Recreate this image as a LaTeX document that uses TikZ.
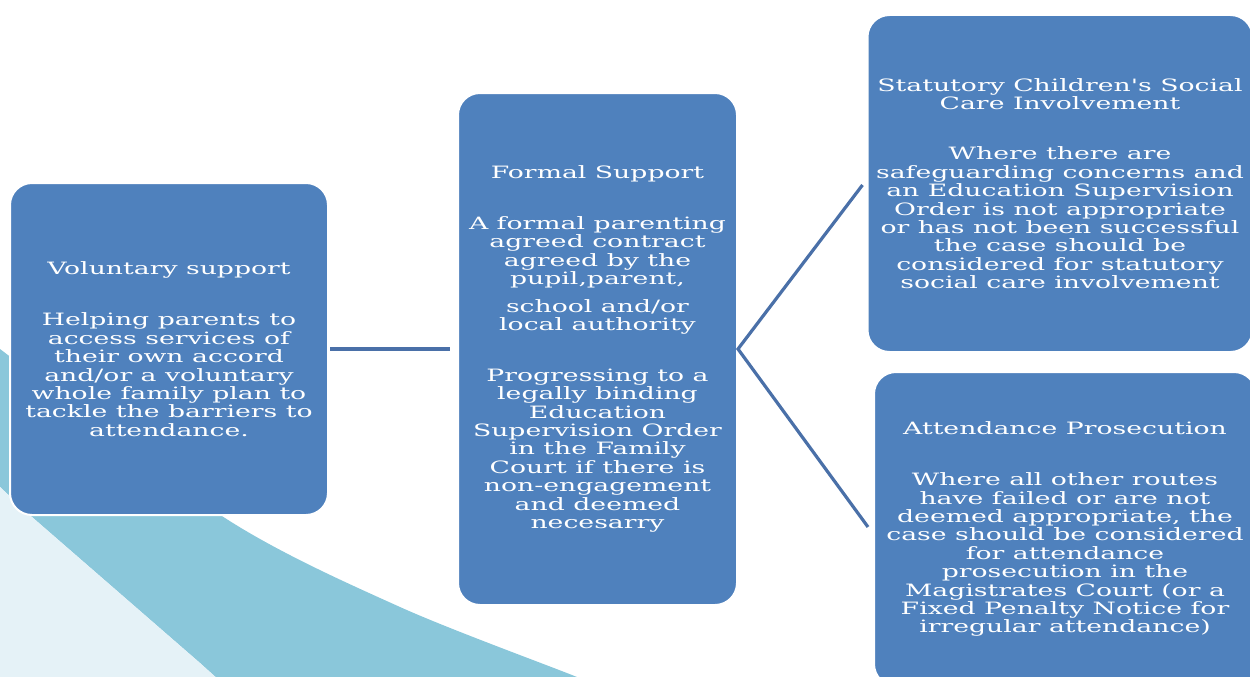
\documentclass[tikz,border=0pt]{standalone}
\usepackage{fontspec}
\setmainfont{DejaVu Serif}[FakeStretch=1.57, Ligatures=TeXOff]
\usetikzlibrary{calc}
\definecolor{boxblue}{RGB}{79,129,189}
\definecolor{lineblue}{RGB}{74,112,168}
\definecolor{banddark}{RGB}{138,199,218}
\definecolor{bandlight}{RGB}{229,242,247}
\begin{document}
\begin{tikzpicture}[x=1pt,y=-1pt,
  box/.style={draw=white, line width=2pt, fill=boxblue, rounded corners=22pt,
    text=white, align=center, inner sep=0pt,
    font=\fontsize{17}{18.4}\selectfont},
  conn/.style={draw=lineblue, line width=3.2pt}]
\useasboundingbox (0,0) rectangle (1250,677);
% background bands
\begin{scope}
\clip (0,0) rectangle (1250,677);
\fill[banddark] plot[smooth] coordinates {(-10,341) (0,349) (225,518) (400,607) (577,677) (600,688)}
  -- (230,690) -- (200,663) -- (32,517) -- (0,487) -- (-10,478) -- cycle;
\fill[bandlight] (-10,478) -- (0,487) -- (32,517) -- (200,663) -- (230,690) -- (-10,690) -- cycle;
\end{scope}
% boxes
\node[box, minimum width=318pt, minimum height=332pt] (b1) at (169,349)
 {Voluntary support\\[33pt]
  Helping parents to\\ access services of\\ their own accord\\ and/or a voluntary\\
  whole family plan to\\ tackle the barriers to\\ attendance.};
\node[box, minimum width=279pt, minimum height=512pt] (b2) at (597.5,349)
 {Formal Support\\[32.5pt]
  A formal parenting\\ agreed contract\\ agreed by the\\ pupil,parent,\\[9pt]
  school and/or\\ local authority\\[32.5pt]
  Progressing to a\\ legally binding\\ Education\\ Supervision Order\\ in the Family\\
  Court if there is\\ non-engagement\\ and deemed\\ necesarry};
\node[box, minimum width=385pt, minimum height=337pt] (b3) at (1060,183.5)
 {Statutory Children's Social\\ Care Involvement\\[32pt]
  Where there are\\ safeguarding concerns and\\ an Education Supervision\\
  Order is not appropriate\\ or has not been successful\\ the case should be\\
  considered for statutory\\ social care involvement};
\node[box, minimum width=382pt, minimum height=314pt] (b4) at (1065,529)
 {Attendance Prosecution\\[33pt]
  Where all other routes\\ have failed or are not\\ deemed appropriate, the\\
  case should be considered\\ for attendance\\ prosecution in the\\
  Magistrates Court (or a\\ Fixed Penalty Notice for\\ irregular attendance)};
% connectors
\coordinate (j1) at ($(b1.east)+(1,0)$);
\coordinate (j2) at ($(b2.west)+(-7,0)$);
\coordinate (k3) at ($(b3.west)+(-4,1.5)$);
\coordinate (k4) at ($(b4.west)+(-5,-2)$);
\draw[conn] (j1) -- (j2);
\draw[conn] (k3) -- (b2.east) -- (k4);
\end{tikzpicture}
\end{document}
